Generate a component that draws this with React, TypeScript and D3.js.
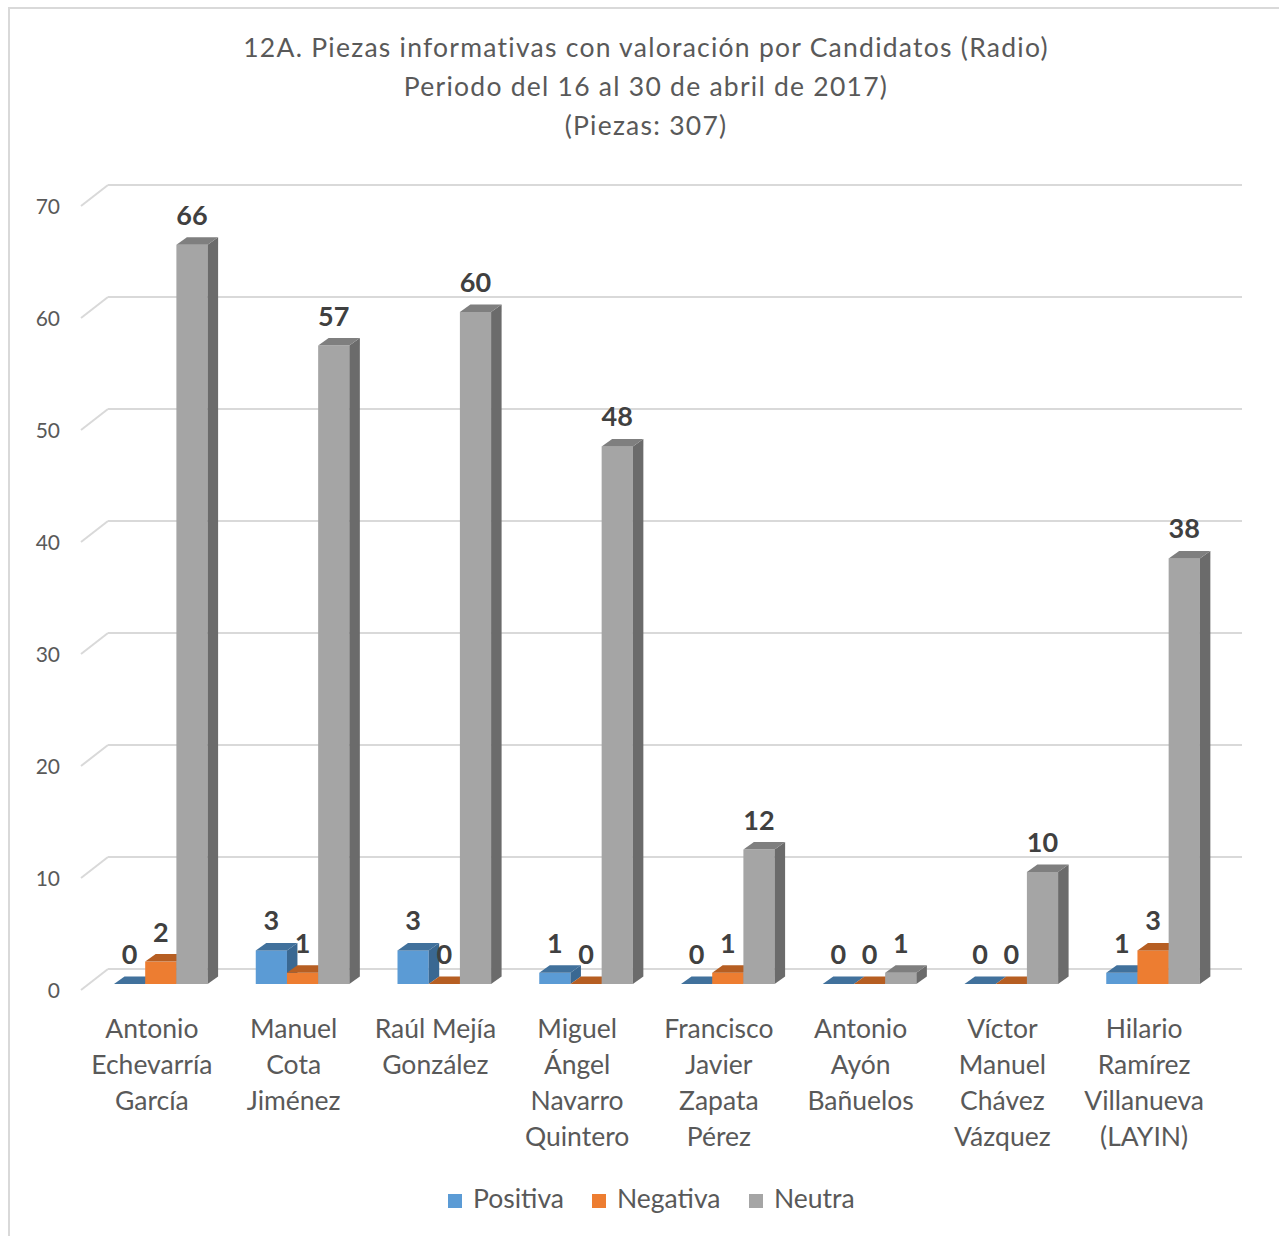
import React from "react";
import * as d3 from "d3";

const titleLines = [
  "12A. Piezas informativas con valoración por Candidatos (Radio)",
  "Periodo del 16 al 30 de abril de 2017)",
  "(Piezas: 307)",
];

const categories = [
  "Antonio Echevarría García",
  "Manuel Cota Jiménez",
  "Raúl Mejía González",
  "Miguel Ángel Navarro Quintero",
  "Francisco Javier Zapata Pérez",
  "Antonio Ayón Bañuelos",
  "Víctor Manuel Chávez Vázquez",
  "Hilario Ramírez Villanueva (LAYIN)",
];

const categoryLines = [
  ["Antonio", "Echevarría", "García"],
  ["Manuel", "Cota", "Jiménez"],
  ["Raúl Mejía", "González"],
  ["Miguel", "Ángel", "Navarro", "Quintero"],
  ["Francisco", "Javier", "Zapata", "Pérez"],
  ["Antonio", "Ayón", "Bañuelos"],
  ["Víctor", "Manuel", "Chávez", "Vázquez"],
  ["Hilario", "Ramírez", "Villanueva", "(LAYIN)"],
];

const seriesNames = ["Positiva", "Negativa", "Neutra"];
const positiva = [0, 3, 3, 1, 0, 0, 0, 1];
const negativa = [2, 1, 0, 0, 1, 0, 0, 3];
const neutra = [66, 57, 60, 48, 12, 1, 10, 38];
const yTicks = [0, 10, 20, 30, 40, 50, 60, 70];

const seriesValues = [positiva, negativa, neutra];
const palette = [
  { front: "#5B9BD5", top: "#41719C", side: "#3A6892" },
  { front: "#ED7D31", top: "#B65E22", side: "#A9561F" },
  { front: "#A5A5A5", top: "#7F7F7F", side: "#6B6B6B" },
];

const FONT = "Lato, 'Open Sans', sans-serif";
const TEXT = "#595959";

export default function App() {
  // front-face value scale
  const y = d3.scaleLinear().domain([0, 70]).range([984, 200]);
  // bands of the bars (front face plane)
  const x = d3
    .scaleBand<string>()
    .domain(categories)
    .range([89, 89 + 8 * 141.75]);
  const inner = d3
    .scaleBand<string>()
    .domain(seriesNames)
    .range([25, 25 + 3 * 31.2]);

  const backShift = 15; // back wall offset from bar front plane (y)
  const wallDx = 27;
  const wallDy = 21;
  const depthDx = 10.5;
  const depthDy = 7.5;
  const backLeft = 108;
  const backRight = 1242;

  const bars: React.ReactNode[] = [];
  const labels: React.ReactNode[] = [];
  categories.forEach((cat, i) => {
    seriesNames.forEach((s, j) => {
      const v = seriesValues[j][i];
      const x0 = (x(cat) as number) + (inner(s) as number);
      const w = inner.bandwidth();
      const yb = y(0);
      const yt = y(v);
      const c = palette[j];
      const x1 = x0 + w;
      bars.push(
        <g key={`b-${i}-${j}`}>
          {v > 0 && (
            <rect x={x0} y={yt} width={w} height={yb - yt} fill={c.front} />
          )}
          {v > 0 && (
            <polygon
              points={`${x1},${yt} ${x1 + depthDx},${yt - depthDy} ${x1 + depthDx},${yb - depthDy} ${x1},${yb}`}
              fill={c.side}
            />
          )}
          <polygon
            points={`${x0},${yt} ${x0 + depthDx},${yt - depthDy} ${x1 + depthDx},${yt - depthDy} ${x1},${yt}`}
            fill={c.top}
          />
        </g>
      );
      labels.push(
        <text
          key={`l-${i}-${j}`}
          x={x0 + w / 2}
          y={yt - 20}
          textAnchor="middle"
          fontFamily={FONT}
          fontWeight={700}
          fontSize={27}
          fill="#404040"
        >
          {v}
        </text>
      );
    });
  });

  return (
    <svg
      width={1279}
      height={1236}
      style={{ position: "absolute", left: 0, top: 0, display: "block", background: "#fff" }}
    >
      <rect x={9} y={8} width={1400} height={1400} fill="#fff" stroke="#D9D9D9" strokeWidth={2} />
      {titleLines.map((t, k) => (
        <text
          key={`t-${k}`}
          x={646}
          y={57 + k * 39}
          textAnchor="middle"
          fontFamily={FONT}
          fontSize={26.5}
          letterSpacing={1.25}
          fill={TEXT}
        >
          {t}
        </text>
      ))}
      {yTicks.map((t) => {
        const yy = y(t) - backShift;
        return (
          <g key={`g-${t}`}>
            <line x1={backLeft} x2={backRight} y1={yy} y2={yy} stroke="#D9D9D9" strokeWidth={2} />
            <line
              x1={backLeft - wallDx}
              y1={yy + wallDy}
              x2={backLeft}
              y2={yy}
              stroke="#D9D9D9"
              strokeWidth={2}
            />
            <text
              x={60}
              y={yy + wallDy + 8}
              textAnchor="end"
              fontFamily={FONT}
              fontSize={21}
              fill={TEXT}
            >
              {t}
            </text>
          </g>
        );
      })}
      {bars}
      {labels}
      {categories.map((cat, i) => {
        const cx = (x(cat) as number) + x.bandwidth() / 2 - 8;
        return (
          <text
            key={`c-${i}`}
            textAnchor="middle"
            fontFamily={FONT}
            fontSize={26.5}
            fill={TEXT}
          >
            {categoryLines[i].map((ln, k) => (
              <tspan key={k} x={cx} y={1038 + k * 36}>
                {ln}
              </tspan>
            ))}
          </text>
        );
      })}
      {seriesNames.map((s, j) => {
        const sx = [448, 592, 749][j];
        return (
          <g key={`lg-${j}`}>
            <rect x={sx} y={1194} width={14} height={14} fill={palette[j].front} />
            <text x={sx + 25} y={1208} fontFamily={FONT} fontSize={26.5} fill={TEXT}>
              {s}
            </text>
          </g>
        );
      })}
    </svg>
  );
}
